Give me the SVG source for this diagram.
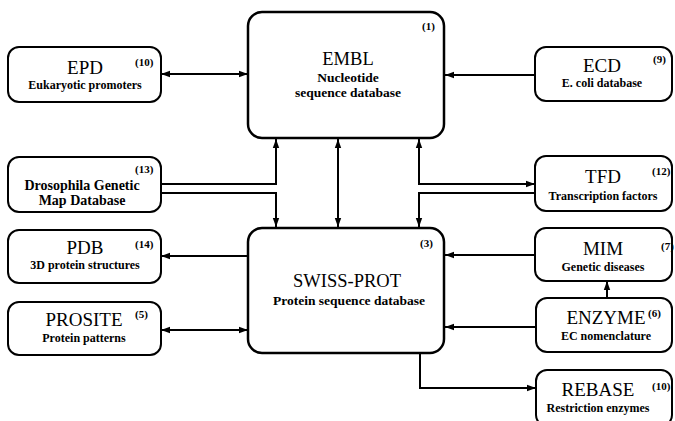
<svg xmlns="http://www.w3.org/2000/svg" width="675" height="421" viewBox="0 0 675 421">
<defs>
<style>
.box{fill:#fff;stroke:#000;stroke-width:2}
.main{fill:#fff;stroke:#000;stroke-width:2.5}
text{font-family:"Liberation Serif","DejaVu Serif",serif;fill:#000;text-anchor:middle}
.t{font-size:19px}
.tm{font-size:18.5px}
.s{font-size:12px;font-weight:bold}
.sm{font-size:13.5px;font-weight:bold}
.d{font-size:14px;font-weight:bold}
.n{font-size:11px;font-weight:bold;text-anchor:start}
.c{fill:none;stroke:#000;stroke-width:2}
</style>
<marker id="ah" markerUnits="userSpaceOnUse" markerWidth="10" markerHeight="8" refX="9" refY="4" orient="auto-start-reverse">
<path d="M0,0.8 L9,4 L0,7.2 z" fill="#000"/>
</marker>
</defs>
<rect width="675" height="421" fill="#fff"/>
<g id="connectors">
<line class="c" x1="161" y1="74" x2="248" y2="74" marker-start="url(#ah)" marker-end="url(#ah)"/>
<line class="c" x1="535" y1="75" x2="445" y2="75" marker-end="url(#ah)"/>
<path class="c" d="M161,184 H276 V139" marker-end="url(#ah)"/>
<path class="c" d="M161,193 H276 V227" marker-end="url(#ah)"/>
<line class="c" x1="338" y1="139" x2="338" y2="227" marker-start="url(#ah)" marker-end="url(#ah)"/>
<path class="c" d="M419,139 V184 H535" marker-start="url(#ah)" marker-end="url(#ah)"/>
<path class="c" d="M535,193 H419 V227" marker-end="url(#ah)"/>
<line class="c" x1="248" y1="256" x2="161" y2="256" marker-end="url(#ah)"/>
<line class="c" x1="535" y1="255" x2="445" y2="255" marker-end="url(#ah)"/>
<line class="c" x1="161" y1="330" x2="248" y2="330" marker-start="url(#ah)" marker-end="url(#ah)"/>
<line class="c" x1="536" y1="327" x2="445" y2="327" marker-end="url(#ah)"/>
<line class="c" x1="607" y1="298" x2="607" y2="281" marker-end="url(#ah)"/>
<path class="c" d="M420,353 V388 H536" marker-end="url(#ah)"/>
</g>
<g id="embl">
<rect class="main" x="248" y="12" width="196" height="126" rx="14"/>
<text class="n" x="422" y="30">(1)</text>
<text class="tm" x="348" y="65">EMBL</text>
<text class="sm" x="348" y="82">Nucleotide</text>
<text class="sm" x="348" y="97">sequence database</text>
</g>
<g id="swissprot">
<rect class="main" x="248" y="228" width="196" height="125" rx="14"/>
<text class="n" x="420" y="247">(3)</text>
<text class="tm" x="347" y="287">SWISS-PROT</text>
<text class="sm" x="349" y="305">Protein sequence database</text>
</g>
<g id="epd">
<rect class="box" x="8" y="47" width="153" height="55" rx="11"/>
<text class="n" x="135" y="66">(10)</text>
<text class="t" x="85" y="74">EPD</text>
<text class="s" x="85" y="89">Eukaryotic promoters</text>
</g>
<g id="ecd">
<rect class="box" x="535" y="47" width="137" height="54" rx="11"/>
<text class="n" x="653" y="63">(9)</text>
<text class="t" x="602" y="72">ECD</text>
<text class="s" x="602" y="87">E. coli database</text>
</g>
<g id="drosophila">
<rect class="box" x="8" y="157" width="153" height="55" rx="11"/>
<text class="n" x="135" y="173">(13)</text>
<text class="d" x="82" y="190">Drosophila Genetic</text>
<text class="d" x="82" y="205">Map Database</text>
</g>
<g id="tfd">
<rect class="box" x="535" y="156" width="137" height="55" rx="11"/>
<text class="n" x="652" y="175">(12)</text>
<text class="t" x="603" y="183">TFD</text>
<text class="s" x="603" y="200">Transcription factors</text>
</g>
<g id="pdb">
<rect class="box" x="8" y="230" width="153" height="53" rx="11"/>
<text class="n" x="135" y="248">(14)</text>
<text class="t" x="85" y="254">PDB</text>
<text class="s" x="85" y="269">3D protein structures</text>
</g>
<g id="mim">
<rect class="box" x="535" y="228" width="137" height="53" rx="11"/>
<text class="n" x="661" y="250">(7)</text>
<text class="t" x="603" y="255">MIM</text>
<text class="s" x="603" y="271">Genetic diseases</text>
</g>
<g id="prosite">
<rect class="box" x="8" y="302" width="153" height="53" rx="11"/>
<text class="n" x="135" y="318">(5)</text>
<text class="t" x="84" y="326">PROSITE</text>
<text class="s" x="84" y="342">Protein patterns</text>
</g>
<g id="enzyme">
<rect class="box" x="536" y="298" width="136" height="54" rx="11"/>
<text class="n" x="648" y="317">(6)</text>
<text class="t" x="606" y="324">ENZYME</text>
<text class="s" x="606" y="340">EC nomenclature</text>
</g>
<g id="rebase">
<rect class="box" x="536" y="370" width="136" height="56" rx="11"/>
<text class="n" x="652" y="390">(10)</text>
<text class="t" x="598" y="396">REBASE</text>
<text class="s" x="598" y="412">Restriction enzymes</text>
</g>
</svg>
